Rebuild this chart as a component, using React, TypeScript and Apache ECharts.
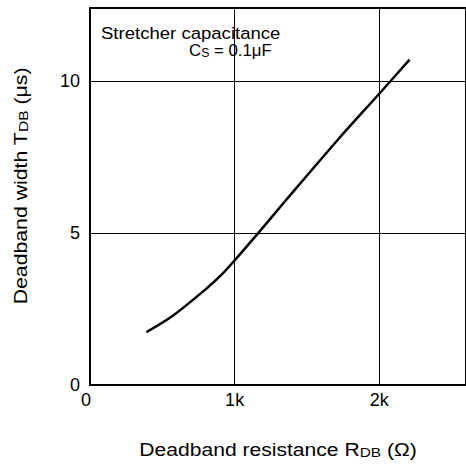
import React, { useEffect, useRef } from "react";
import * as echarts from "echarts";

// Deadband resistance in kΩ
const resistanceK = [0.39, 0.57, 0.8, 0.91, 1.0, 1.16, 1.35, 1.72, 2.0, 2.21];
// Deadband width in µs
const widthUs = [1.74, 2.27, 3.15, 3.63, 4.1, 4.98, 6.05, 8.1, 9.58, 10.7];

const xTickLabels = ["0", "1k", "2k"];
const yTickValues = [0, 5, 10];

const FONT = "'Liberation Sans', Arial, Helvetica, sans-serif";

const richSub = (size: number, sub: number) => ({
  n: { fontSize: size, fontFamily: FONT, fill: "#000", verticalAlign: "bottom", lineHeight: size },
  s: { fontSize: sub, fontFamily: FONT, fill: "#000", verticalAlign: "bottom", lineHeight: sub + 1 },
});

export default function App() {
  const ref = useRef<HTMLDivElement>(null);

  useEffect(() => {
    if (!ref.current) return;
    const chart = echarts.init(ref.current, undefined, { renderer: "svg" });
    const data = resistanceK.map((r, i) => [r, widthUs[i]]);
    chart.setOption({
      animation: false,
      backgroundColor: "#fff",
      grid: {
        left: 90,
        top: 8,
        right: -13,
        bottom: 81,
        show: true,
        borderColor: "#000",
        borderWidth: 2,
        backgroundColor: "transparent",
      },
      xAxis: {
        type: "value",
        min: 0,
        max: 2.6,
        interval: 1,
        axisLine: { show: false },
        axisTick: { show: false },
        splitLine: { show: true, lineStyle: { color: "#000", width: 1 } },
        axisLabel: {
          margin: 6,
          color: "#000",
          fontSize: 18,
          fontFamily: FONT,
          showMaxLabel: false,
          formatter: (v: number) => {
            if (!Number.isInteger(v)) return "";
            const label = xTickLabels[v];
            if (label === undefined) return "";
            return v === 0 ? "{z|" + label + "}" : label;
          },
          rich: {
            z: { fontSize: 18, fontFamily: FONT, color: "#000", padding: [0, 8, 0, 0] },
          },
        },
      },
      yAxis: {
        type: "value",
        min: 0,
        max: 12.4,
        interval: 5,
        axisLine: { show: false },
        axisTick: { show: false },
        splitLine: { show: true, lineStyle: { color: "#000", width: 1 } },
        axisLabel: {
          margin: 10,
          color: "#000",
          fontSize: 18,
          fontFamily: FONT,
          showMaxLabel: false,
          formatter: (v: number) => (yTickValues.includes(v) ? String(v) : ""),
        },
      },
      graphic: [
        {
          type: "text",
          x: 101,
          y: 33,
          scaleX: 1.125,
          style: {
            text: "Stretcher capacitance",
            fontSize: 16.5,
            lineHeight: 14,
            fontFamily: FONT,
            fill: "#000",
            verticalAlign: "middle",
          },
        },
        {
          type: "text",
          x: 189,
          y: 52,
          scaleX: 1.02,
          style: {
            text: "{n|C}{s|S}{n| = 0.1μF}",
            fontSize: 16.5,
            fontFamily: FONT,
            fill: "#000",
            verticalAlign: "middle",
            rich: {
              n: { fontSize: 16.5, fontFamily: FONT, fill: "#000", verticalAlign: "bottom", lineHeight: 14 },
              s: { fontSize: 12, fontFamily: FONT, fill: "#000", verticalAlign: "bottom", lineHeight: 11 },
            },
          },
        },
        {
          type: "text",
          x: 278,
          y: 450,
          scaleX: 1.14,
          style: {
            text: "{n|Deadband resistance R}{s|DB}{n| (Ω)}",
            fontSize: 18.5,
            fontFamily: FONT,
            fill: "#000",
            align: "center",
            verticalAlign: "middle",
            rich: richSub(18.5, 13.5),
          },
        },
        {
          type: "text",
          x: 21,
          y: 186,
          rotation: Math.PI / 2,
          scaleX: 1.15,
          style: {
            text: "{n|Deadband width T}{s|DB}{n| (μs)}",
            fontSize: 18.5,
            fontFamily: FONT,
            fill: "#000",
            align: "center",
            verticalAlign: "middle",
            rich: richSub(18.5, 13.5),
          },
        },
      ],
      series: [
        {
          type: "line",
          data,
          smooth: 0.3,
          showSymbol: false,
          symbol: "none",
          lineStyle: { color: "#000", width: 2.5 },
          z: 5,
        },
      ],
    });
    return () => chart.dispose();
  }, []);

  return (
    <div
      ref={ref}
      style={{ position: "absolute", left: 0, top: 0, width: 466, height: 466, overflow: "hidden" }}
    />
  );
}
